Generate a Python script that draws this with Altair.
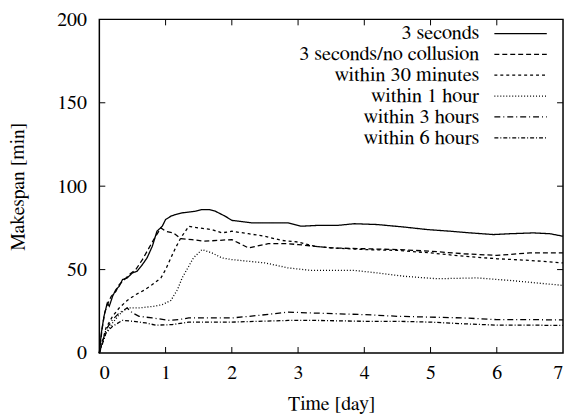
import altair as alt
import pandas as pd

series_names = ["3 seconds", "3 seconds/no collusion", "within 30 minutes",
                "within 1 hour", "within 3 hours", "within 6 hours"]
dashes = [[1, 0], [5, 3], [3, 3], [1, 2], [6, 3, 1, 3], [4, 2, 1, 2]]

s3_x = [0, 0.03, 0.07, 0.12, 0.15, 0.2, 0.25, 0.3, 0.35, 0.42, 0.5, 0.57, 0.65, 0.72, 0.8, 0.87,
        0.95, 1.0, 1.08, 1.15, 1.25, 1.35, 1.45, 1.55, 1.65, 1.75, 1.9, 2.0, 2.3, 2.6, 2.85, 3.05,
        3.3, 3.6, 3.85, 4.2, 4.6, 4.95, 5.3, 5.6, 5.95, 6.2, 6.55, 6.8, 7.0]
s3_y = [0, 12, 22, 30, 28, 34, 38, 40, 44, 45, 48, 49, 53, 57, 64, 73,
        76, 80, 82, 83, 84, 84.5, 85, 86, 86, 85, 82, 79.5, 78, 78, 78, 76,
        76.5, 76.5, 77.5, 77, 75.5, 74, 73, 72, 71, 71.5, 72, 71.5, 70]

nc_x = [0, 0.04, 0.08, 0.12, 0.18, 0.25, 0.3, 0.38, 0.45, 0.55, 0.65, 0.75, 0.85, 0.93, 1.0,
        1.12, 1.23, 1.4, 1.57, 1.8, 2.0, 2.25, 2.55, 2.85, 3.0, 3.5, 4.0, 4.5, 5.0, 5.5, 6.0,
        6.5, 7.0]
nc_y = [0, 14, 24, 29, 34, 37, 41, 44, 47, 50, 56, 63, 70, 75, 73,
        72, 68.5, 68, 67, 67.5, 68, 63, 65.5, 65.5, 65, 63, 62.5, 62, 61, 59.5, 58.5,
        60, 60]

m30_x = [0, 0.1, 0.2, 0.3, 0.42, 0.55, 0.67, 0.8, 0.93, 1.0, 1.08, 1.15, 1.23, 1.35, 1.5,
         1.7, 1.85, 2.0, 2.25, 2.5, 2.75, 3.0, 3.25, 3.5, 4.0, 4.5, 5.0, 5.5, 6.0, 6.5, 7.0]
m30_y = [0, 15, 22, 27, 31.5, 35, 37.5, 41, 45, 50, 57, 63, 69, 76, 75,
         74, 72, 73, 71.5, 70, 67.5, 66.5, 64, 63, 62, 61.5, 60, 58, 56.5, 55.5, 54]

h1_x = [0, 0.1, 0.2, 0.3, 0.42, 0.6, 0.82, 0.95, 1.08, 1.18, 1.25, 1.35, 1.42, 1.55, 1.7,
        1.85, 2.0, 2.25, 2.5, 2.85, 3.2, 3.5, 3.85, 4.2, 4.6, 5.1, 5.7, 6.2, 6.6, 7.0]
h1_y = [0, 12, 18, 23, 27, 27, 28, 29, 31.5, 38, 45, 52, 57, 62, 60,
        57, 56, 55, 54, 51, 49.5, 49.5, 49.5, 48, 46, 44.5, 45, 43.5, 42, 40.5]

h3_x = [0, 0.1, 0.2, 0.3, 0.42, 0.5, 0.6, 0.8, 1.05, 1.2, 1.35, 1.6, 2.0, 2.4, 2.85, 3.2,
        3.6, 4.0, 4.5, 5.0, 5.5, 6.0, 6.5, 7.0]
h3_y = [0, 14, 20, 24, 27, 24, 22, 21, 19.6, 20, 21, 21, 21, 22.5, 24.5, 24,
        23.5, 23, 22, 21.5, 21, 20, 20, 19.8]

h6_x = [0, 0.1, 0.2, 0.35, 0.5, 0.7, 0.85, 1.1, 1.35, 1.6, 2.0, 2.4, 2.85, 3.3, 4.0, 4.5,
        5.0, 5.5, 6.0, 6.5, 7.0]
h6_y = [0, 12, 16, 19.6, 19, 18, 16.7, 17, 18.5, 18.5, 18.5, 19, 19.5, 19.5, 19, 19,
        18.5, 17.5, 16.7, 16.7, 16.5]

x_ticks = [0, 1, 2, 3, 4, 5, 6, 7]
y_ticks = [0, 50, 100, 150, 200]
inner_x_ticks = [1, 2, 3, 4, 5, 6]
inner_y_ticks = [50, 100, 150]

frames = []
for name, xs, ys in [(series_names[0], s3_x, s3_y), (series_names[1], nc_x, nc_y),
                     (series_names[2], m30_x, m30_y), (series_names[3], h1_x, h1_y),
                     (series_names[4], h3_x, h3_y), (series_names[5], h6_x, h6_y)]:
    frames.append(pd.DataFrame({"day": xs, "val": ys, "series": name}))
df = pd.concat(frames, ignore_index=True)

W, H = 467, 336
FS = 20
FONT = "FreeSerif"

xscale = alt.Scale(domain=[0, 7], nice=False)
yscale = alt.Scale(domain=[0, 200], nice=False)

lines = alt.Chart(df).mark_line(strokeWidth=1.3, color="black").encode(
    x=alt.X("day:Q", scale=xscale,
            axis=alt.Axis(values=x_ticks, title="Time [day]", ticks=False, domain=False,
                          grid=False, labelPadding=10, titlePadding=11, format="d")),
    y=alt.Y("val:Q", scale=yscale,
            axis=alt.Axis(values=y_ticks, title="Makespan [min]", ticks=False, domain=False,
                          grid=False, labelPadding=13, titlePadding=29, format="d")),
    strokeDash=alt.StrokeDash("series:N", sort=series_names,
                              scale=alt.Scale(domain=series_names, range=dashes),
                              legend=alt.Legend(title=None, orient="none", legendX=414,
                                                legendY=4, symbolType="M-4.8,0H4.8",
                                                symbolSize=121, symbolStrokeWidth=1.3,
                                                symbolStrokeColor="black",
                                                symbolFillColor="transparent",
                                                labelAlign="right", labelLimit=0,
                                                labelOffset={"expr": "-52"},
                                                rowPadding={"expr": "-3"}, padding=0)),
    order=alt.Order("day:Q"),
)

xt = pd.DataFrame({"day": inner_x_ticks})
yt = pd.DataFrame({"val": inner_y_ticks})
tick_b = alt.Chart(xt).mark_rule(color="black", strokeWidth=1).encode(
    x="day:Q", y=alt.value(H), y2=alt.value(H - 6))
tick_t = alt.Chart(xt).mark_rule(color="black", strokeWidth=1).encode(
    x="day:Q", y=alt.value(0), y2=alt.value(6))
tick_l = alt.Chart(yt).mark_rule(color="black", strokeWidth=1).encode(
    y="val:Q", x=alt.value(0), x2=alt.value(6))
tick_r = alt.Chart(yt).mark_rule(color="black", strokeWidth=1).encode(
    y="val:Q", x=alt.value(W), x2=alt.value(W - 6))

chart = alt.layer(lines, tick_b, tick_t, tick_l, tick_r).properties(
    width=W, height=H,
    padding={"left": 0, "top": 0, "right": 0, "bottom": 0},
).configure(font=FONT).configure_view(
    stroke="black", strokeWidth=1.5).configure_axis(
    labelFont=FONT, titleFont=FONT, labelFontSize=FS, titleFontSize=FS,
    labelColor="black", titleColor="black", titleFontWeight="normal",
).configure_legend(labelFont=FONT, labelFontSize=20.5, labelColor="black")

chart.save("out.html", embed_options={"renderer": "svg", "actions": False})
